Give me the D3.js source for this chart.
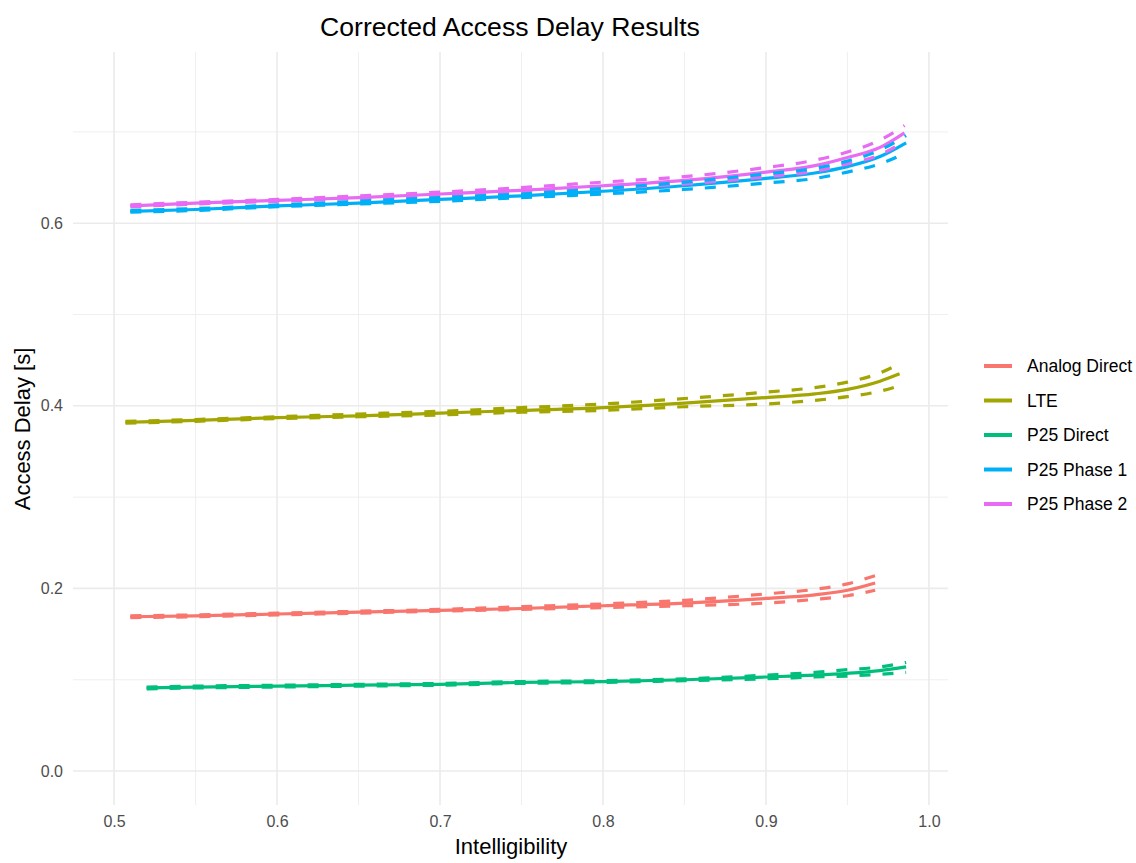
<!DOCTYPE html>
<html>
<head>
<meta charset="utf-8">
<script src="https://cdn.jsdelivr.net/npm/d3@7"></script>
<style>
  body { margin: 0; background: #fff; }
  text { font-family: "Liberation Sans", Arial, sans-serif; }
</style>
</head>
<body>
<svg></svg>
<script>
// Svg element dimensions
const width = 1136;
const height = 863;

// Series names and colours (ggplot default hue palette)
const seriesNames = ["Analog Direct", "LTE", "P25 Direct", "P25 Phase 1", "P25 Phase 2"];
const seriesColors = ["#F8766D", "#A3A500", "#00BF7D", "#00B0F6", "#E76BF3"];

// Values: x, mean, upper and lower bounds
const analogX = [0.51, 0.55, 0.6, 0.65, 0.7, 0.75, 0.8, 0.85, 0.9, 0.93, 0.95, 0.967];
const analogMean = [0.169, 0.170, 0.172, 0.174, 0.176, 0.178, 0.181, 0.184, 0.189, 0.193, 0.198, 0.206];
const analogUpper = [0.170, 0.171, 0.173, 0.175, 0.177, 0.180, 0.183, 0.187, 0.194, 0.199, 0.205, 0.214];
const analogLower = [0.168, 0.169, 0.171, 0.173, 0.175, 0.177, 0.179, 0.181, 0.184, 0.188, 0.192, 0.198];

const lteX = [0.507, 0.55, 0.6, 0.65, 0.7, 0.75, 0.8, 0.85, 0.9, 0.93, 0.95, 0.97, 0.982];
const lteMean = [0.382, 0.384, 0.387, 0.389, 0.392, 0.395, 0.398, 0.403, 0.409, 0.413, 0.418, 0.427, 0.435];
const lteUpper = [0.383, 0.385, 0.388, 0.391, 0.394, 0.398, 0.402, 0.408, 0.415, 0.420, 0.426, 0.436, 0.446];
const lteLower = [0.381, 0.383, 0.386, 0.388, 0.390, 0.393, 0.395, 0.399, 0.402, 0.406, 0.410, 0.416, 0.422];

const p25dX = [0.52, 0.55, 0.6, 0.65, 0.7, 0.75, 0.8, 0.85, 0.9, 0.93, 0.95, 0.97, 0.986];
const p25dMean = [0.091, 0.092, 0.093, 0.094, 0.095, 0.097, 0.098, 0.100, 0.103, 0.105, 0.107, 0.110, 0.114];
const p25dUpper = [0.092, 0.093, 0.094, 0.095, 0.096, 0.098, 0.099, 0.101, 0.105, 0.108, 0.111, 0.114, 0.119];
const p25dLower = [0.090, 0.091, 0.092, 0.093, 0.094, 0.096, 0.097, 0.099, 0.101, 0.103, 0.104, 0.106, 0.108];

const ph1X = [0.51, 0.55, 0.6, 0.65, 0.7, 0.75, 0.8, 0.85, 0.9, 0.93, 0.95, 0.97, 0.986];
const ph1Mean = [0.613, 0.615, 0.619, 0.622, 0.626, 0.630, 0.635, 0.641, 0.649, 0.655, 0.662, 0.673, 0.688];
const ph1Upper = [0.614, 0.616, 0.620, 0.624, 0.628, 0.632, 0.638, 0.645, 0.654, 0.660, 0.668, 0.680, 0.696];
const ph1Lower = [0.612, 0.614, 0.618, 0.621, 0.624, 0.628, 0.632, 0.637, 0.644, 0.649, 0.656, 0.665, 0.677];

const ph2X = [0.51, 0.55, 0.6, 0.65, 0.7, 0.75, 0.8, 0.85, 0.9, 0.93, 0.95, 0.97, 0.985];
const ph2Mean = [0.619, 0.622, 0.625, 0.628, 0.632, 0.636, 0.641, 0.647, 0.656, 0.663, 0.672, 0.683, 0.699];
const ph2Upper = [0.620, 0.623, 0.626, 0.630, 0.634, 0.639, 0.645, 0.651, 0.661, 0.669, 0.678, 0.691, 0.707];
const ph2Lower = [0.618, 0.621, 0.624, 0.627, 0.630, 0.634, 0.638, 0.643, 0.651, 0.657, 0.665, 0.675, 0.690];

// Ticks
const xTicks = [0.5, 0.6, 0.7, 0.8, 0.9, 1.0];
const xMinor = [0.55, 0.65, 0.75, 0.85, 0.95];
const yTicks = [0.0, 0.2, 0.4, 0.6];
const yMinor = [0.1, 0.3, 0.5, 0.7];

const seriesX = [analogX, lteX, p25dX, ph1X, ph2X];
const seriesMean = [analogMean, lteMean, p25dMean, ph1Mean, ph2Mean];
const seriesUpper = [analogUpper, lteUpper, p25dUpper, ph1Upper, ph2Upper];
const seriesLower = [analogLower, lteLower, p25dLower, ph1Lower, ph2Lower];

const series = seriesNames.map((name, i) => ({
  name,
  color: seriesColors[i],
  mean: seriesX[i].map((x, j) => [x, seriesMean[i][j]]),
  upper: seriesX[i].map((x, j) => [x, seriesUpper[i][j]]),
  lower: seriesX[i].map((x, j) => [x, seriesLower[i][j]])
}));

const svg = d3.select("svg").attr("width", width).attr("height", height);

// Panel area
const panel = { left: 73, right: 948, top: 52, bottom: 805 };

const xScale = d3.scaleLinear().domain([0.4748, 1.0117]).range([panel.left, panel.right]);
const yScale = d3.scaleLinear().domain([-0.0372, 0.7875]).range([panel.bottom, panel.top]);

// Grid
const grid = svg.append("g");
grid.selectAll(".xminor").data(xMinor).enter().append("line")
  .attr("x1", (d) => xScale(d)).attr("x2", (d) => xScale(d))
  .attr("y1", panel.top).attr("y2", panel.bottom)
  .attr("stroke", "#ebebeb").attr("stroke-width", 0.8);
grid.selectAll(".yminor").data(yMinor).enter().append("line")
  .attr("y1", (d) => yScale(d)).attr("y2", (d) => yScale(d))
  .attr("x1", panel.left).attr("x2", panel.right)
  .attr("stroke", "#ebebeb").attr("stroke-width", 0.8);
grid.selectAll(".xmajor").data(xTicks).enter().append("line")
  .attr("x1", (d) => xScale(d)).attr("x2", (d) => xScale(d))
  .attr("y1", panel.top).attr("y2", panel.bottom)
  .attr("stroke", "#ebebeb").attr("stroke-width", 1.6);
grid.selectAll(".ymajor").data(yTicks).enter().append("line")
  .attr("y1", (d) => yScale(d)).attr("y2", (d) => yScale(d))
  .attr("x1", panel.left).attr("x2", panel.right)
  .attr("stroke", "#ebebeb").attr("stroke-width", 1.6);

// Axes (tick labels only)
const xAxisG = svg.append("g")
  .attr("transform", `translate(0, ${panel.bottom})`)
  .call(d3.axisBottom(xScale).tickValues(xTicks).tickFormat(d3.format(".1f")).tickSize(0).tickPadding(11));
const yAxisG = svg.append("g")
  .attr("transform", `translate(${panel.left}, 0)`)
  .call(d3.axisLeft(yScale).tickValues(yTicks).tickFormat(d3.format(".1f")).tickSize(0).tickPadding(10));
[xAxisG, yAxisG].forEach((g) => {
  g.select(".domain").remove();
  g.selectAll("text").attr("fill", "#4d4d4d").style("font-size", "16px")
    .style("font-family", "'Liberation Sans', Arial, sans-serif");
});

// Lines
const line = d3.line()
  .x((d) => xScale(d[0]))
  .y((d) => yScale(d[1]))
  .curve(d3.curveMonotoneX);

const plot = svg.append("g");
["mean", "lower", "upper"].forEach((key) => {
  plot.selectAll(`.line-${key}`)
    .data(series)
    .enter()
    .append("path")
    .attr("d", (d) => line(d[key]))
    .attr("fill", "none")
    .attr("stroke", (d) => d.color)
    .attr("stroke-width", 3.2)
    .attr("stroke-dasharray", key === "mean" ? null : "11,12");
});

// Title and axis titles
svg.append("text")
  .attr("x", 510).attr("y", 36)
  .attr("text-anchor", "middle")
  .style("font-size", "26.6px")
  .text("Corrected Access Delay Results");

svg.append("text")
  .attr("x", 511).attr("y", 854)
  .attr("text-anchor", "middle")
  .style("font-size", "22px")
  .text("Intelligibility");

svg.append("text")
  .attr("transform", `translate(30, 429) rotate(-90)`)
  .attr("text-anchor", "middle")
  .style("font-size", "22px")
  .text("Access Delay [s]");

// Legend
const legend = svg.append("g").attr("transform", "translate(984, 366)");
const rows = legend.selectAll("g").data(series).enter().append("g")
  .attr("transform", (d, i) => `translate(0, ${i * 34.5})`);
rows.append("line")
  .attr("x1", 0).attr("x2", 28)
  .attr("stroke", (d) => d.color)
  .attr("stroke-width", 4);
rows.append("text")
  .attr("x", 43).attr("y", 6.2)
  .style("font-size", "17.5px")
  .text((d) => d.name);
</script>
</body>
</html>
